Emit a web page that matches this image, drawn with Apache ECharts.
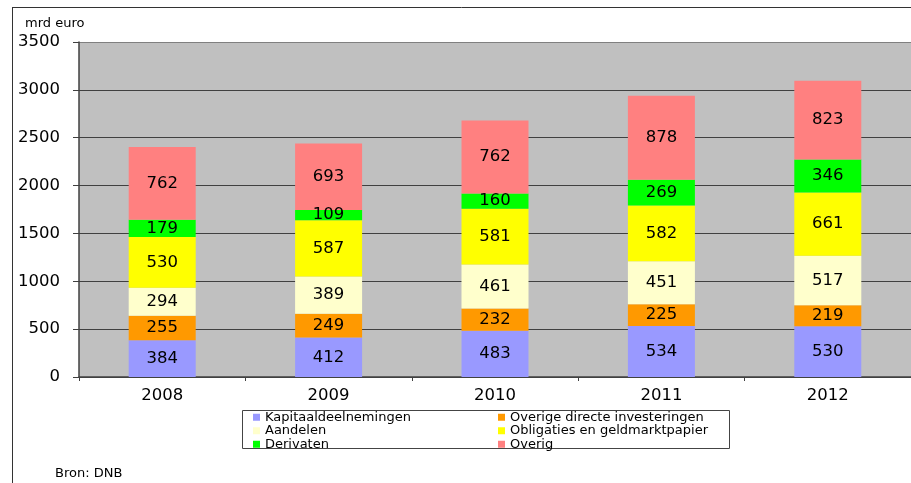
<!DOCTYPE html>
<html>
<head>
<meta charset="utf-8">
<script src="https://cdn.jsdelivr.net/npm/echarts@6/dist/echarts.min.js"></script>
<style>
  html, body { margin: 0; padding: 0; background: #fff; }
  #chart { width: 911px; height: 483px; }
</style>
</head>
<body>
<div id="chart"></div>
<script>
const years = ['2008', '2009', '2010', '2011', '2012'];
const kapitaal = [384, 412, 483, 534, 530];
const overigeDirecte = [255, 249, 232, 225, 219];
const aandelen = [294, 389, 461, 451, 517];
const obligaties = [530, 587, 581, 582, 661];
const derivaten = [179, 109, 160, 269, 346];
const overig = [762, 693, 762, 878, 823];
const yTicks = [0, 500, 1000, 1500, 2000, 2500, 3000, 3500];

const font = 'DejaVu Sans, sans-serif';

const myChart = echarts.init(document.getElementById('chart'));

// één gestapelde serie per categorie
const mk = (name, data, color) => ({
  name: name,
  type: 'bar',
  stack: 'tot',
  data: data,
  barWidth: 67,
  itemStyle: { color: color },
  label: {
    show: true,
    position: 'inside',
    color: '#000',
    fontSize: 16.5,
    fontFamily: font,
  },
});

const legendText = { fontSize: 13, fontFamily: font, color: '#000', lineHeight: 13.5 };

myChart.setOption({
  animation: false,
  grid: {
    left: 79,
    top: 42,
    width: 835,
    height: 335,
    show: true,
    backgroundColor: '#c0c0c0',
    borderWidth: 0,
  },
  legend: [
    {
      orient: 'vertical',
      left: 253,
      top: 410.5,
      itemGap: 0,
      itemWidth: 7,
      itemHeight: 7,
      icon: 'rect',
      padding: 0,
      textStyle: legendText,
      data: ['Kapitaaldeelnemingen', 'Aandelen', 'Derivaten'],
    },
    {
      orient: 'vertical',
      left: 498,
      top: 410.5,
      itemGap: 0,
      itemWidth: 7,
      itemHeight: 7,
      icon: 'rect',
      padding: 0,
      textStyle: legendText,
      data: ['Overige directe investeringen', 'Obligaties en geldmarktpapier', 'Overig'],
    },
  ],
  xAxis: {
    type: 'category',
    data: years,
    axisLine: { lineStyle: { color: '#404040', width: 1.5 } },
    axisTick: { show: true, length: 4, lineStyle: { color: '#404040' } },
    axisLabel: { fontSize: 16.5, fontFamily: font, color: '#000', margin: 10 },
  },
  yAxis: {
    type: 'value',
    min: yTicks[0],
    max: yTicks[yTicks.length - 1],
    interval: 500,
    axisLine: { show: true, lineStyle: { color: '#404040', width: 1.5 } },
    axisTick: { show: true, length: 6, lineStyle: { color: '#404040' } },
    axisLabel: { fontSize: 16.5, fontFamily: font, color: '#000', margin: 19, formatter: (v) => String(v) },
    splitLine: {
      show: true,
      lineStyle: { color: ['#404040', '#404040', '#404040', '#404040', '#404040', '#404040', '#404040', '#808080'], width: 1.2 },
    },
  },
  graphic: [
    // kader rond de figuur
    { type: 'line', shape: { x1: 12, y1: 7.5, x2: 911, y2: 7.5 }, style: { stroke: '#333', lineWidth: 1 } },
    { type: 'line', shape: { x1: 12.5, y1: 7, x2: 12.5, y2: 483 }, style: { stroke: '#333', lineWidth: 1 } },
    // kader rond de legenda
    { type: 'rect', shape: { x: 242.5, y: 410.5, width: 487, height: 38 }, style: { fill: 'none', stroke: '#444', lineWidth: 1 } },
    { type: 'text', left: 25, top: 17, style: { text: 'mrd euro', fontSize: 13, fontFamily: font, fill: '#000' } },
    { type: 'text', left: 55, top: 467, style: { text: 'Bron: DNB', fontSize: 13, fontFamily: font, fill: '#000' } },
  ],
  series: [
    mk('Kapitaaldeelnemingen', kapitaal, '#9999ff'),
    mk('Overige directe investeringen', overigeDirecte, '#ff9900'),
    mk('Aandelen', aandelen, '#ffffcc'),
    mk('Obligaties en geldmarktpapier', obligaties, '#ffff00'),
    mk('Derivaten', derivaten, '#00ff00'),
    mk('Overig', overig, '#ff8080'),
  ],
});
</script>
</body>
</html>
